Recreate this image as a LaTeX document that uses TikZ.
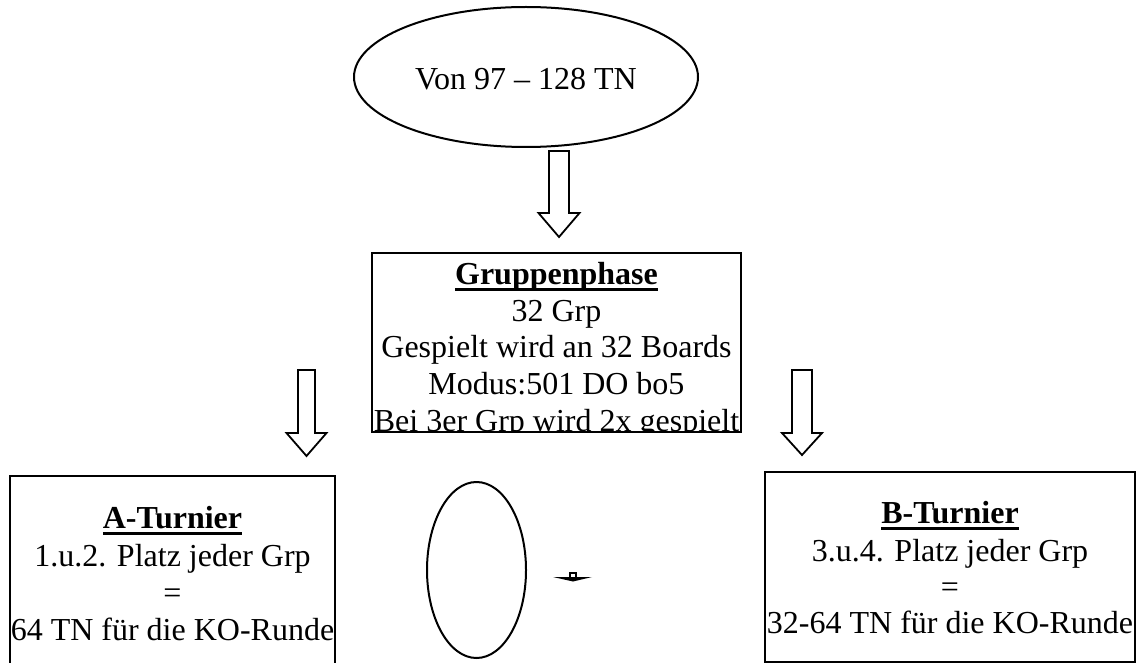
\documentclass[tikz,border=0pt]{standalone}
\usepackage{fontspec}
\setmainfont{Liberation Serif}
\usetikzlibrary{shapes.geometric}
\newcommand\headul[1]{\setbox0\hbox{\bfseries #1}\rlap{\rule[-6.5pt]{\wd0}{3pt}}\box0}
\begin{document}
\begin{tikzpicture}[x=1pt,y=-1pt,line width=2pt,
  txt/.style={anchor=base,inner sep=0pt,font=\fontsize{32}{37}\selectfont},
  frame/.style={draw=black,line width=2pt,inner sep=0pt},
  oval/.style={ellipse,draw=black,line width=2pt,inner sep=0pt},
  blockarrow/.style={draw=black,line width=1.8pt,fill=white,line join=miter}]
\useasboundingbox (0,0) rectangle (1142,663);
\clip (0,0) rectangle (1142,663);
% top ellipse
\node[oval,minimum width=344pt,minimum height=140pt] (start) at (526,77) {};
\node[txt] (starttxt) at (526,90) {Von 97 – 128 TN};
% top block arrow
\draw[blockarrow] (549,151) -- (569,151) -- (569,213) -- (579.5,213) -- (559,237) -- (538.5,213) -- (549,213) -- cycle;
% Gruppenphase box
\begin{scope}
\clip (372,253) rectangle (741,432);
\node[txt] (g1) at (556.5,284) {\headul{Gruppenphase}};
\node[txt] (g2) at (556.5,321) {32 Grp};
\node[txt] (g3) at (556.5,357) {Gespielt wird an 32 Boards};
\node[txt] (g4) at (556.5,394) {Modus:501 DO bo5};
\node[txt] (g5) at (556.5,431) {Bei 3er Grp wird 2x gespielt};
\end{scope}
\node[frame,minimum width=369pt,minimum height=179pt] (group) at (556.5,342.5) {};
% side block arrows
\draw[blockarrow] (298,370) -- (315,370) -- (315,433) -- (326.5,433) -- (306.5,456) -- (286.5,433) -- (298,433) -- cycle;
\draw[blockarrow] (792,370) -- (812,370) -- (812,433) -- (822,433) -- (802,455) -- (782,433) -- (792,433) -- cycle;
% A-Turnier box
\node[frame,minimum width=325pt,minimum height=224pt] (aturn) at (172.5,588) {};
\node[txt] (a1) at (172.5,528) {\headul{A-Turnier}};
\node[txt] (a2) at (172.5,566) {1.u.2. Platz jeder Grp};
\node[txt] (a3) at (172.5,603) {=};
\node[txt] (a4) at (172.5,640) {64 TN für die KO-Runde};
% middle ellipse
\node[oval,minimum width=99pt,minimum height=176pt] (mid) at (476.5,570) {};
% small collapsed mark
\draw[line width=1.5pt] (570,573) rectangle (576,578);
\fill[black] (553,577) -- (592,577) -- (573,581.5) -- cycle;
% B-Turnier box
\node[frame,minimum width=370pt,minimum height=190pt] (bturn) at (950,567) {};
\node[txt] (b1) at (950,523) {\headul{B-Turnier}};
\node[txt] (b2) at (950,561) {3.u.4. Platz jeder Grp};
\node[txt] (b3) at (950,597) {=};
\node[txt] (b4) at (950,633) {32-64 TN für die KO-Runde};
\end{tikzpicture}
\end{document}
